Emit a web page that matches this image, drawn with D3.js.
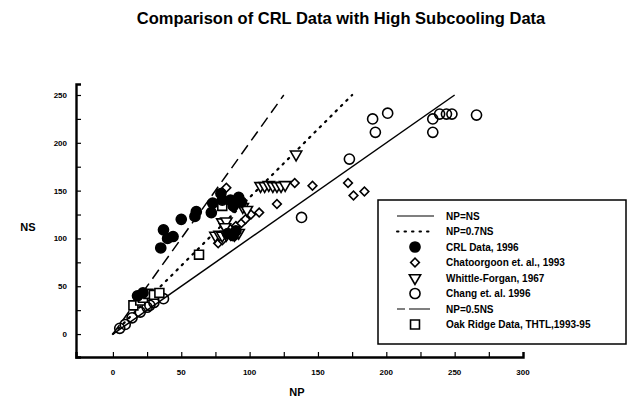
<!DOCTYPE html>
<html>
<head>
<meta charset="utf-8">
<script src="https://cdn.jsdelivr.net/npm/d3@7"></script>
<style>
  html, body { margin: 0; padding: 0; background: #fff; }
  svg { display: block; font-family: "Liberation Sans", Arial, sans-serif; }
</style>
</head>
<body>
<svg id="chart" width="638" height="401"></svg>
<script>
// NP / NS pairs for each data set
const crlData = [[18,40],[22,43],[35,90],[37,109],[40,100],[44,102],[50,120],[60,123],[61,128],[72,127],[73,137],[79,147],[80,140],[86,140],[88,134],[92,143],[94,138],[84,105],[88,103],[90,108]];
const chatoorgoon = [[77,95],[80,98],[83,153],[86,110],[88,132],[90,113],[94,116],[97,120],[101,125],[107,127],[120,136],[133,158],[146,155],[172,158],[176,145],[184,149]];
const whittleForgan = [[75,103],[78,104],[80,103],[83,104],[86,105],[89,104],[92,106],[80,117],[83,118],[82,112],[95,133],[98,130],[108,155],[111,155],[114,156],[117,155],[120,155],[123,155],[126,156],[134,188]];
const chang = [[5,6],[9,10],[14,17],[20,23],[25,28],[27,30],[30,33],[37,37],[138,122],[173,183],[190,225],[192,211],[201,231],[234,225],[234,211],[239,230],[244,230],[248,230],[266,229]];
const oakRidge = [[15,30],[20,35],[22,38],[26,42],[30,41],[34,43],[63,83],[80,134]];

// reference lines NP = ratio * NS, drawn from the origin up to NS = 250
const refLines = [
  { name: "NP=NS",    ratio: 1.0, dash: null },
  { name: "NP=0.7NS", ratio: 0.7, dash: "1.5,6" },
  { name: "NP=0.5NS", ratio: 0.5, dash: "11,6" }
];
const refTopNS = 250;

const xTicks = [0, 50, 100, 150, 200, 250, 300];
const yTicks = [0, 50, 100, 150, 200, 250];

const legendItems = [
  { label: "NP=NS", kind: "line", dash: null },
  { label: "NP=0.7NS", kind: "line", dash: "1.5,6" },
  { label: "CRL Data, 1996", kind: "filled" },
  { label: "Chatoorgoon et. al., 1993", kind: "diamond" },
  { label: "Whittle-Forgan, 1967", kind: "triangle" },
  { label: "Chang et. al. 1996", kind: "circle" },
  { label: "NP=0.5NS", kind: "line", dash: "8,4,21,4,1.5,30" },
  { label: "Oak Ridge Data, THTL,1993-95", kind: "square" }
];

const svg = d3.select("#chart");
const x = d3.scaleLinear().domain([-27, 300]).range([76, 523]);
const y = d3.scaleLinear().domain([-24, 261.5]).range([357, 84]);

// title
svg.append("text").attr("x", 341).attr("y", 24).attr("text-anchor", "middle")
  .attr("font-size", 16.5).attr("font-weight", "bold").text("Comparison of CRL Data with High Subcooling  Data");

// axes with inward ticks every 25 units
const axisX = d3.axisBottom(x).tickValues(d3.range(0, 301, 25)).tickSize(-5).tickFormat("");
const axisY = d3.axisLeft(y).tickValues(d3.range(0, 251, 25)).tickSize(-5).tickFormat("");
const gx = svg.append("g").attr("transform", `translate(0,${y(-24)})`).call(axisX);
const gy = svg.append("g").attr("transform", `translate(${x(-27)},0)`).call(axisY);
[gx, gy].forEach(g => {
  g.select(".domain").attr("stroke", "#000").attr("stroke-width", 2.4);
  g.selectAll(".tick line").attr("stroke", "#000").attr("stroke-width", 1.2);
});

svg.append("g").selectAll("text").data(xTicks).join("text")
  .attr("x", d => x(d)).attr("y", 375).attr("text-anchor", "middle")
  .attr("font-size", 8).attr("font-weight", "bold").text(d => d);
svg.append("g").selectAll("text").data(yTicks).join("text")
  .attr("x", 67).attr("y", d => y(d) + 3).attr("text-anchor", "end")
  .attr("font-size", 8).attr("font-weight", "bold").text(d => d);

svg.append("text").attr("x", 297).attr("y", 396).attr("text-anchor", "middle")
  .attr("font-size", 11).attr("font-weight", "bold").text("NP");
svg.append("text").attr("x", 28).attr("y", y(112) + 4).attr("text-anchor", "middle")
  .attr("font-size", 11).attr("font-weight", "bold").text("NS");

// reference lines
svg.append("g").selectAll("line").data(refLines).join("line")
  .attr("x1", x(0)).attr("y1", y(0))
  .attr("x2", d => x(refTopNS * d.ratio)).attr("y2", y(refTopNS))
  .attr("stroke", "#000").attr("stroke-width", d => d.dash === "1.5,6" ? 2.2 : 1.5)
  .attr("stroke-linecap", d => d.dash === "1.5,6" ? "round" : "butt")
  .attr("stroke-dasharray", d => d.dash);

// marker symbols
const sym = {
  filled:   { type: d3.symbolCircle, size: 80, fill: "#000" },
  circle:   { type: d3.symbolCircle, size: 80, fill: "none" },
  diamond:  { type: d3.symbolSquare, size: 38, fill: "#fff", rot: 45 },
  triangle: { type: d3.symbolTriangle, size: 55, fill: "#fff", rot: 180 },
  square:   { type: d3.symbolSquare, size: 80, fill: "#fff" }
};
function drawSet(data, kind) {
  const s = sym[kind];
  svg.append("g").selectAll("path").data(data).join("path")
    .attr("d", d3.symbol().type(s.type).size(s.size))
    .attr("transform", d => `translate(${x(d[0])},${y(d[1])})${s.rot ? ` rotate(${s.rot})` : ""}`)
    .attr("fill", s.fill).attr("stroke", "#000").attr("stroke-width", 1.6);
}
drawSet(chang, "circle");
drawSet(chatoorgoon, "diamond");
drawSet(whittleForgan, "triangle");
drawSet(oakRidge, "square");
drawSet(crlData, "filled");

// legend
const lg = svg.append("g");
lg.append("rect").attr("x", 378).attr("y", 200).attr("width", 248).attr("height", 144)
  .attr("fill", "#fff").attr("stroke", "#000").attr("stroke-width", 1.5);
legendItems.forEach((it, i) => {
  const yy = 216 + i * 15.5;
  if (it.kind === "line") {
    lg.append("line").attr("x1", 397).attr("x2", 434).attr("y1", yy).attr("y2", yy)
      .attr("stroke", "#000").attr("stroke-width", it.dash === "1.5,6" ? 2 : 1.2)
      .attr("stroke-linecap", it.dash === "1.5,6" ? "round" : "butt")
      .attr("stroke-dasharray", it.dash);
  } else {
    const s = sym[it.kind];
    lg.append("path").attr("d", d3.symbol().type(s.type).size(s.size))
      .attr("transform", `translate(415,${yy})${s.rot ? ` rotate(${s.rot})` : ""}`)
      .attr("fill", s.fill).attr("stroke", "#000").attr("stroke-width", 1.6);
  }
  lg.append("text").attr("x", 446).attr("y", yy + 3.5).attr("font-size", 10)
    .attr("font-weight", "bold").text(it.label);
});
</script>
</body>
</html>
